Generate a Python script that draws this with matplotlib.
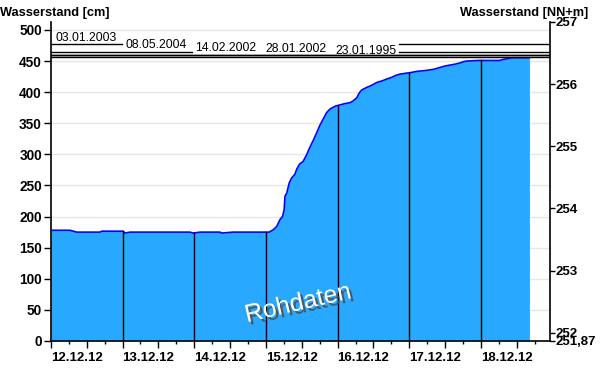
import numpy as np
import matplotlib.pyplot as plt
import matplotlib.patheffects as pe
from matplotlib.transforms import offset_copy, ScaledTranslation

plt.rcParams['font.family'] = ['Liberation Sans', 'DejaVu Sans']

# Pegel: Stunden seit 12.12.12 00:00 und Wasserstand in cm
hours = [0.0, 6.4, 8.7, 16.5, 17.0, 24.2, 24.8, 26.5, 46.6, 47.6, 50.0, 56.6,
         57.2, 61.0, 73.1, 74.5, 75.6, 76.7, 77.6, 78.1, 78.4, 79.0, 79.8,
         80.6, 81.7, 82.3, 83.2, 84.5, 85.7, 86.4, 88.1, 90.1, 91.2, 92.3,
         93.4, 94.6, 95.5, 96.8, 98.5, 100.1, 101.2, 102.4, 103.3, 104.1,
         105.7, 107.4, 109.1, 110.8, 112.4, 114.2, 115.5, 116.9, 119.1, 120.8,
         122.5, 125.8, 128.0, 130.3, 131.9, 133.6, 135.3, 137.0, 138.1, 139.2,
         143.1, 150.3, 151.4, 153.1, 154.3, 160.2]
level = [178, 178, 175, 175, 176.5, 176.5, 173.5, 175, 175, 173.5, 175, 175,
         173.5, 175, 175, 179, 184, 195, 200.5, 211, 233, 238, 254,
         262, 268, 276, 284, 289, 300, 308, 325, 347, 357, 367,
         372.6, 376, 378, 379.5, 381.7, 383, 386, 391, 399, 403.7,
         407.5, 411, 415.6, 418, 421, 424, 427, 429, 430.6, 431.8,
         433.4, 435, 436.6, 439.8, 442, 443.5, 445, 447, 449, 450,
         451, 451, 452.7, 454, 455.3, 455.3]

day_labels = ['12.12.12', '13.12.12', '14.12.12', '15.12.12',
              '16.12.12', '17.12.12', '18.12.12']

# historische Hochwasser
hw_dates = ['03.01.2003', '08.05.2004', '14.02.2002', '28.01.2002', '23.01.1995']
hw_levels = [477, 465, 460, 459.5, 456.5]

nn_zero = 251.87
nn_ticks = [252, 253, 254, 255, 256, 257]

fig = plt.figure(figsize=(6, 3.84), dpi=100)
ax = fig.add_axes([0.0847, 0.112, 0.832, 0.831])

x_max = 167.1
y_max = (257 - nn_zero) * 100
ax.set_xlim(0, x_max)
ax.set_ylim(0, y_max)

ax.fill_between(hours, 0, level, color='#29a8ff', lw=0, zorder=2)
ax.plot(hours, level, color='#0000ff', lw=1.2, zorder=3)

# Tageslinien
for d in range(1, len(day_labels)):
    h = d * 24
    ax.plot([h, h], [0, np.interp(h, hours, level)], color='black', lw=1, zorder=3)

# Hochwassermarken: Linie verschwindet hinter den tiefer liegenden Beschriftungen
label_x = [1.4 + 23.45 * i for i in range(len(hw_dates))]
label_w = 20.5
for i, lev in enumerate(hw_levels):
    below = [j for j in range(i + 1, len(hw_levels)) if lev - hw_levels[j] >= 4]
    if below:
        x0 = label_x[below[0]] - 1.0
        x1 = label_x[below[-1]] + label_w + 1.0
        ax.plot([0, x0], [lev, lev], color='black', lw=1, zorder=4)
        ax.plot([x1, x_max], [lev, lev], color='black', lw=1, zorder=4)
    else:
        ax.axhline(lev, color='black', lw=1, zorder=4)
for i, (txt, lev) in enumerate(zip(hw_dates, hw_levels)):
    tr = offset_copy(ax.transData, fig=fig, x=0, y=0.5, units='dots')
    ax.text(label_x[i], lev, txt, transform=tr, fontsize=8.8,
            va='bottom', ha='left', zorder=5)

ax.set_yticks(np.arange(0, 501, 50))
ax.grid(axis='y', color='#e6e6e6', lw=1, zorder=0)
ax.set_axisbelow(True)

ax.set_xticks(np.arange(0, x_max, 12))
ax.set_xticks(np.arange(0, x_max, 6), minor=True)
xl = []
for k in range(len(ax.get_xticks())):
    xl.append(day_labels[k // 2] if k % 2 == 0 else '')
ax.set_xticklabels(xl)
for lab in ax.get_xticklabels():
    lab.set_horizontalalignment('left')
    lab.set_transform(lab.get_transform() + ScaledTranslation(-5 / 100, 0, fig.dpi_scale_trans))

ax.tick_params(axis='x', which='major', length=5, width=1, pad=3, labelsize=9.5)
ax.tick_params(axis='x', which='minor', length=2.5, width=1)
ax.tick_params(axis='y', length=5, width=1, pad=1.5, labelsize=9.8)
for lab in ax.get_xticklabels() + ax.get_yticklabels():
    lab.set_fontweight('bold')

for s in ['top', 'right']:
    ax.spines[s].set_visible(False)
for s in ['left', 'bottom']:
    ax.spines[s].set_linewidth(1.2)

ax2 = ax.twinx()
ax2.set_ylim(nn_zero, 257)
ax2.set_yticks(nn_ticks + [nn_zero])
ax2.set_yticklabels([str(t) for t in nn_ticks] + [str(nn_zero).replace('.', ',')])
ax2.tick_params(axis='y', length=3.5, width=1, pad=0.5, labelsize=9.5)
for lab in ax2.get_yticklabels():
    lab.set_fontweight('bold')
for s in ['top', 'left', 'bottom']:
    ax2.spines[s].set_visible(False)
ax2.spines['right'].set_linewidth(1.2)

ax.text(0.495, 0.118, 'Rohdaten', transform=ax.transAxes, fontsize=18,
        color='white', rotation=13, ha='center', va='center', zorder=6,
        path_effects=[pe.withSimplePatchShadow(offset=(2, -2), shadow_rgbFace='#505050', alpha=0.9)])

fig.text(0.0, 0.982, 'Wasserstand [cm]', fontsize=9.2, fontweight='bold', ha='left', va='top')
fig.text(0.98, 0.982, 'Wasserstand [NN+m]', fontsize=9.2, fontweight='bold', ha='right', va='top')

fig.savefig('out.png', dpi=100)
